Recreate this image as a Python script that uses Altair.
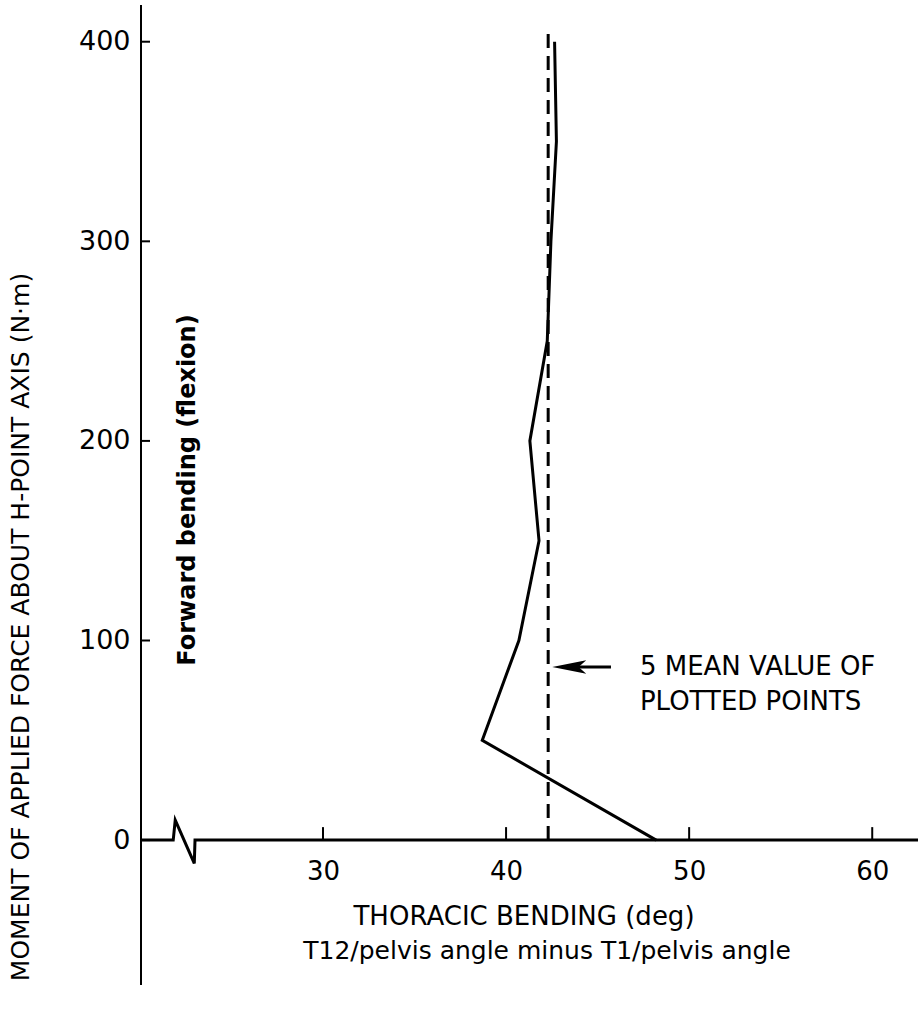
import altair as alt
import pandas as pd

# Thoracic bending measured at each level of applied moment
moment = [0, 50, 100, 150, 200, 250, 300, 350, 400]
bending = [48.2, 38.7, 40.7, 41.8, 41.3, 42.25, 42.45, 42.75, 42.65]

# mean of the plotted points, drawn as a dashed reference line
mean_bending = [42.3]
mean_top = [404]

y_ticks = [0, 100, 200, 300, 400]
x_ticks = [30, 40, 50, 60]

# x axis runs along zero moment, with a break mark near its left end
axis_x = [20.06, 21.82, 21.93, 22.97, 23.01, 62.5]
axis_y = [0, 0, 10, -11.7, 0, 0]

X_DOMAIN = [20.06, 62.5]
Y_DOMAIN = [-72.6, 418.4]
W, H = 777, 980
FONT = "DejaVu Sans"
INK = "black"


def xq(field):
    return alt.X(
        field, type="quantitative",
        scale=alt.Scale(domain=X_DOMAIN, nice=False, zero=False),
        axis=alt.Axis(values=x_ticks, title=None, domain=False, ticks=False, tickSize=0,
                      grid=False, labelFontSize=26, labelFont=FONT, labelColor=INK,
                      labelPadding=18, offset=-145, labelFlush=False, labelOverlap=False),
    )


def yq(field):
    return alt.Y(
        field, type="quantitative",
        scale=alt.Scale(domain=Y_DOMAIN, nice=False, zero=False),
        axis=alt.Axis(values=y_ticks, title=None, domain=False, ticks=False, tickSize=0,
                      grid=False, labelFontSize=27, labelFont=FONT, labelColor=INK,
                      labelPadding=11, labelFlush=False, labelOverlap=False),
    )


curve_df = pd.DataFrame({"bending": bending, "moment": moment})
curve = alt.Chart(curve_df).mark_line(color=INK, strokeWidth=3, strokeJoin="miter").encode(
    x=xq("bending"), y=yq("moment"), order=alt.Order("moment:Q")
)

mean_df = pd.DataFrame({"x": mean_bending, "y0": [0], "y1": mean_top})
mean_line = alt.Chart(mean_df).mark_rule(color=INK, strokeWidth=3, strokeDash=[14, 8]).encode(
    x=xq("x"), y=yq("y0"), y2="y1"
)

xaxis_df = pd.DataFrame({"x": axis_x, "y": axis_y, "i": list(range(len(axis_x)))})
x_axis_line = alt.Chart(xaxis_df).mark_line(color=INK, strokeWidth=3, strokeJoin="miter").encode(
    x=xq("x"), y=yq("y"), order=alt.Order("i:Q")
)

y_axis_line = alt.Chart(pd.DataFrame({"a": [0]})).mark_rule(color=INK, strokeWidth=2).encode(
    x=alt.value(0), y=alt.value(0), y2=alt.value(H)
)

yt_df = pd.DataFrame({"v": y_ticks})
y_tick_marks = alt.Chart(yt_df).mark_rule(color=INK, strokeWidth=2).encode(
    x=alt.value(0), x2=alt.value(9), y=yq("v")
)

xt_df = pd.DataFrame({"v": x_ticks, "y0": [0] * len(x_ticks), "y1": [6.5] * len(x_ticks)})
x_tick_marks = alt.Chart(xt_df).mark_rule(color=INK, strokeWidth=2).encode(
    x=xq("v"), y=yq("y0"), y2="y1"
)

# arrow pointing at the mean line
shaft_df = pd.DataFrame({"x0": [43.9], "x1": [45.73], "y": [86.7]})
shaft = alt.Chart(shaft_df).mark_rule(color=INK, strokeWidth=3).encode(
    x=xq("x0"), x2="x1", y=yq("y")
)
head_df = pd.DataFrame({"x": [43.45], "y": [86.7]})
head = alt.Chart(head_df).mark_point(
    shape="M -1 0 L 1 -0.4 L 0.55 0 L 1 0.4 Z", filled=True, color=INK, opacity=1, size=1156
).encode(x=xq("x"), y=yq("y"))

note_df = pd.DataFrame({"x": [47.31, 47.31], "y": [86.7, 69.1],
                        "t": ["5 MEAN VALUE OF", "PLOTTED POINTS"]})
note = alt.Chart(note_df).mark_text(
    align="left", baseline="middle", font=FONT, fontSize=26, color=INK
).encode(x=xq("x"), y=yq("y"), text="t:N")

flex_df = pd.DataFrame({"x": [22.63], "y": [175.4], "t": ["Forward bending (flexion)"]})
flex = alt.Chart(flex_df).mark_text(
    angle=270, align="center", baseline="middle", font=FONT, fontSize=24,
    fontWeight="bold", color=INK
).encode(x=xq("x"), y=yq("y"), text="t:N")

ytitle = alt.Chart(pd.DataFrame({"t": ["MOMENT OF APPLIED FORCE ABOUT H-POINT AXIS (N\u00b7m)"]})).mark_text(
    angle=270, align="center", baseline="middle", font=FONT, fontSize=25, color=INK
).encode(x=alt.value(-120), y=alt.value(622), text="t:N")

xtitle1 = alt.Chart(pd.DataFrame({"t": ["THORACIC  BENDING  (deg)"]})).mark_text(
    align="center", baseline="middle", font=FONT, fontSize=26, color=INK
).encode(x=alt.value(383), y=alt.value(912), text="t:N")

xtitle2 = alt.Chart(pd.DataFrame({"t": ["T12/pelvis angle minus T1/pelvis angle"]})).mark_text(
    align="center", baseline="middle", font=FONT, fontSize=25, color=INK
).encode(x=alt.value(406), y=alt.value(946), text="t:N")

chart = alt.layer(
    x_axis_line, y_axis_line, y_tick_marks, x_tick_marks, mean_line, curve,
    shaft, head, note, flex, ytitle, xtitle1, xtitle2
).properties(
    width=W, height=H,
    autosize=alt.AutoSizeParams(type="none"),
    padding={"left": 141, "top": 5, "right": 0, "bottom": 24},
    background="white",
).configure_view(strokeWidth=0)

chart.save("out.html", embed_options={"renderer": "svg", "actions": False})
